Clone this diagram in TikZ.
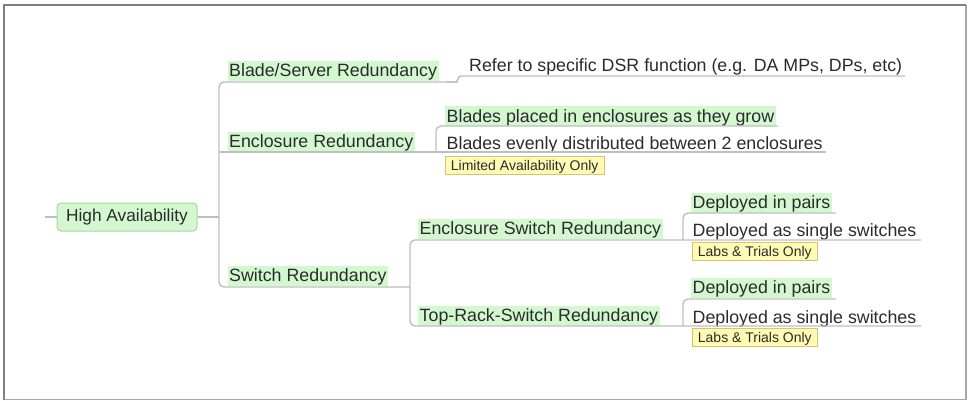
\documentclass[tikz,border=0pt]{standalone}
\usepackage{fontspec}
\setmainfont{Liberation Sans}
\usetikzlibrary{calc}
\definecolor{hlgreen}{HTML}{D3F8D0}
\definecolor{rootborder}{HTML}{A8D4A0}
\definecolor{noteyellow}{HTML}{FFFBB4}
\definecolor{noteborder}{HTML}{D6C46E}
\definecolor{linegray}{HTML}{BEBEBE}
\definecolor{txt}{HTML}{2B2B2B}
\definecolor{framedark}{HTML}{808080}
\definecolor{framelight}{HTML}{A8A8A8}
\begin{document}
\begin{tikzpicture}[x=1pt,y=-1pt,
  conn/.style={draw=linegray, line width=1.4pt, rounded corners=5pt},
  hl/.style={fill=hlgreen, inner xsep=1.5pt, inner ysep=2.5pt, text height=13pt, text depth=2pt, anchor=base west, font=\fontsize{17.8}{20}\selectfont, text=txt},
  pl/.style={hl, fill=none},
  note/.style={fill=noteyellow, draw=noteborder, line width=0.8pt, inner xsep=5.5pt, inner ysep=2.5pt, text height=11pt, text depth=2pt, anchor=base west, font=\fontsize{14}{16}\selectfont, text=txt},
  rootbox/.style={fill=hlgreen, draw=rootborder, line width=1pt, rounded corners=4pt, inner xsep=2pt, minimum width=140pt, minimum height=28pt, font=\fontsize{17.3}{20}\selectfont, text=txt}
]
\useasboundingbox (0,0) rectangle (971,401);
% frame
\draw[framelight, line width=1.5pt] (4,399.5) -- (966,399.5) -- (966,5);
\draw[framedark, line width=2pt] (4,400) -- (4,5) -- (966,5);

% nodes
\node[rootbox] (root) at (127,217) {High Availability};
\node[hl] (blade) at (227.5,77) {Blade/Server Redundancy};
\node[pl] (refer) at (467.5,72) {Refer to specific DSR function (e.g. DA MPs, DPs, etc)};
\node[hl] (encl) at (227.5,147) {Enclosure Redundancy};
\node[hl] (placed) at (445,122) {Blades placed in enclosures as they grow};
\node[pl] (evenly) at (445,149) {Blades evenly distributed between 2 enclosures};
\node[note] (limited) at (445,170) {Limited Availability Only};
\node[hl] (switch) at (227.5,281) {Switch Redundancy};
\node[hl] (encsw) at (418,234) {Enclosure Switch Redundancy};
\node[hl] (toprack) at (418,321) {Top-Rack-Switch Redundancy};
\node[hl] (pairsA) at (691,208) {Deployed in pairs};
\node[pl] (singleA) at (691,236) {Deployed as single switches};
\node[note] (labsA) at (692,256) {Labs \& Trials Only};
\node[hl] (pairsB) at (691,293) {Deployed in pairs};
\node[pl] (singleB) at (691,323) {Deployed as single switches};
\node[note] (labsB) at (692,342) {Labs \& Trials Only};

% junction coordinates
\coordinate (stub) at (45,217);
\coordinate (trunkTop) at (219,82);
\coordinate (trunkMid) at (219,217);
\coordinate (trunkBot) at (219,287);
\coordinate (bladeTurn) at (446,82);
\coordinate (bladeEnd) at (458,82);
\coordinate (referTurn) at (458,76);
\coordinate (referEnd) at (905,76);
\coordinate (enclJ) at (436,152);
\coordinate (placedTurn) at (436,126);
\coordinate (placedEnd) at (778,126);
\coordinate (evenlyEnd) at (826,152);
\coordinate (swJ) at (410,287);
\coordinate (swTop) at (410,240);
\coordinate (swBot) at (410,326);
\coordinate (dA) at (683,240);
\coordinate (dATurn) at (683,213);
\coordinate (pairsAEnd) at (836,213);
\coordinate (singleAEnd) at (921,240);
\coordinate (dB) at (683,326);
\coordinate (dBTurn) at (683,299);
\coordinate (pairsBEnd) at (836,299);
\coordinate (singleBEnd) at (921,326);

% connectors
\draw[conn] (stub) -- (root.west);
\draw[conn] (root.east) -- (trunkMid);
\draw[conn] (bladeEnd) -- (trunkTop) -- (trunkBot) -- (swJ);
\draw[conn, rounded corners=3pt] (bladeTurn) -- (bladeEnd) -- (referTurn) -- (referEnd);
\draw[conn] (trunkTop |- enclJ) -- (evenlyEnd);
\draw[conn] (enclJ) -- (placedTurn) -- (placedEnd);
\draw[conn] (singleAEnd) -- (swTop) -- (swBot) -- (singleBEnd);
\draw[conn] (dA) -- (dATurn) -- (pairsAEnd);
\draw[conn] (dB) -- (dBTurn) -- (pairsBEnd);
\end{tikzpicture}
\end{document}
